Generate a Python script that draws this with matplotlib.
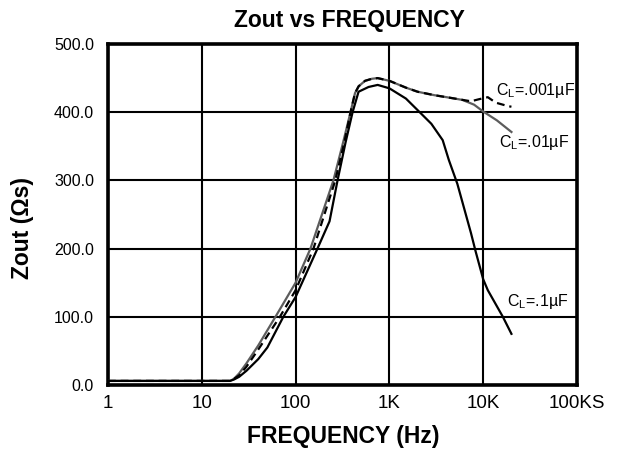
import matplotlib
matplotlib.use("Agg")
import matplotlib.pyplot as plt

plt.rcParams['font.family'] = ['Liberation Sans', 'DejaVu Sans']
plt.rcParams['mathtext.fontset'] = 'custom'
plt.rcParams['mathtext.rm'] = 'Liberation Sans'

# CL = .01uF (grey solid)
freq_01 = [1, 10, 20, 22, 25, 30, 40, 61, 100, 144, 253, 320, 385, 430, 470,
           550, 650, 750, 1000, 1500, 2000, 3000, 4500, 6000, 8000, 10000,
           14000, 20000]
zout_01 = [6, 6, 6, 9, 17, 32, 58, 100, 150, 200, 300, 355, 400, 428, 438,
           446, 449, 450, 446, 436, 430, 425, 421, 418, 411, 401,
           388, 371]

# CL = .001uF (black dashed)
freq_001 = [1, 10, 20, 22, 25, 30, 40, 68, 100, 155, 265, 330, 385, 430, 470,
            550, 650, 750, 1000, 1500, 2000, 3000, 4500, 7400, 9000, 11200,
            13600, 18300, 20000]
zout_001 = [6, 6, 6, 9, 14, 27, 52, 100, 139, 200, 300, 355, 400, 428, 438,
            446, 449, 450, 446, 436, 430, 425, 421, 416, 419, 422,
            414, 409, 408]

# CL = .1uF (black solid)
freq_1 = [1, 10, 20, 22, 25, 30, 40, 50, 74, 100, 171, 230, 280, 340, 405,
          469, 600, 750, 1000, 1500, 2000, 2800, 3700, 4300, 5300, 7400,
          8300, 10000, 11200, 16200, 20000]
zout_1 = [6, 6, 6, 8, 12, 21, 38, 55, 100, 129, 200, 240, 300, 355, 400,
          430, 437, 440, 435, 420, 403, 383, 359, 330, 295, 223,
          196, 155, 139, 100, 75]

xticks = [1, 10, 100, 1000, 10000, 100000]
xtick_labels = ["1", "10", "100", "1K", "10K", "100KS"]
yticks = [0, 100, 200, 300, 400, 500]

fig = plt.figure(figsize=(6.28, 4.51), dpi=100)
ax = fig.add_axes([108 / 628, 1 - 385 / 451, 469 / 628, 341 / 451])

ax.plot(freq_01, zout_01, color='#5c5c5c', lw=1.6, zorder=3)
ax.plot(freq_1, zout_1, color='black', lw=1.6, zorder=4)
ax.plot(freq_001, zout_001, color='black', lw=1.6, ls=(0, (3.5, 2.2)), zorder=5)

ax.set_xscale('log')
ax.set_xlim(1, 100000)
ax.set_ylim(0, 500)
ax.set_xticks(xticks)
ax.set_xticklabels(xtick_labels)
ax.minorticks_off()
ax.set_yticks(yticks)
ax.set_yticklabels(["%.1f" % v for v in yticks])
ax.tick_params(axis='x', length=0, pad=7, labelsize=13.5)
ax.tick_params(axis='y', length=0, pad=10, labelsize=11.5)
ax.grid(True, color='black', lw=1.5)
ax.set_axisbelow(True)
for s in ax.spines.values():
    s.set_linewidth(2.6)

# curve labels
ax.text(13600, 432, r'C$_\mathregular{L}$=.001µF', fontsize=11.5, va='center')
ax.text(14700, 356, r'C$_\mathregular{L}$=.01µF', fontsize=11.5, va='center')
ax.text(17900, 123, r'C$_\mathregular{L}$=.1µF', fontsize=11.5, va='center')

fig.text(0.557, 1 - 20 / 451, "Zout vs FREQUENCY", fontsize=16.5,
         fontweight='bold', ha='center', va='center')
fig.text(0.547, 1 - 437 / 451, "FREQUENCY (Hz)", fontsize=16.5,
         fontweight='bold', ha='center', va='center')
fig.text(23 / 628, 1 - 228 / 451, "Zout (Ωs)", fontsize=16.5,
         fontweight='bold', ha='center', va='center', rotation=90)

fig.savefig("out.png", dpi=100)
